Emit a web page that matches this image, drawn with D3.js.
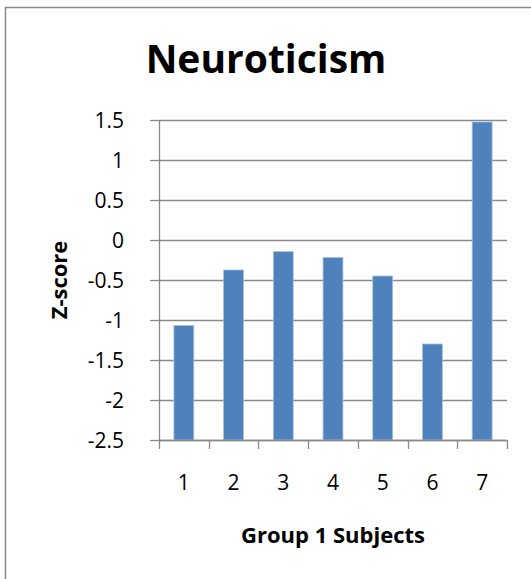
<!DOCTYPE html>
<meta charset="utf-8">
<script src="https://d3js.org/d3.v7.min.js"></script>
<style>
body { margin: 0; background: white; }
text { font-family: "Open Sans", sans-serif; fill: #000; }
</style>
<div id="chart"></div>
<script>

// data
var subjects = ["1", "2", "3", "4", "5", "6", "7"];
var zscores = [-1.07, -0.375, -0.145, -0.22, -0.45, -1.3, 1.475];
var yTicks = [-2.5, -2, -1.5, -1, -0.5, 0, 0.5, 1, 1.5];
var chartTitle = "Neuroticism";
var xTitle = "Group 1 Subjects";
var yTitle = "Z-score";

var width = 531, height = 579;
var plot = {left: 159, right: 507, top: 120, bottom: 440};

var svg = d3.select("#chart")
  .append("svg")
    .attr("width", width)
    .attr("height", height);

// outer frame (only the top and left edges fall inside the picture)
svg.append("rect")
  .attr("x", 5.5).attr("y", 7.5)
  .attr("width", 700).attr("height", 700)
  .attr("fill", "none")
  .attr("stroke", "#8a8a8a")
  .attr("stroke-width", 1.5);

var x = d3.scaleBand()
  .domain(subjects)
  .range([plot.left, plot.right])
  .padding(0);

var y = d3.scaleLinear()
  .domain([-2.5, 1.5])
  .range([plot.bottom, plot.top]);

// y ticks + labels (plain hyphen for negatives, like the original)
var yAxis = svg.append("g")
  .attr("transform", "translate(" + plot.left + ",0)")
  .call(d3.axisLeft(y).tickValues(yTicks).tickSize(9).tickPadding(26)
    .tickFormat(function (d) { return String(d); }));
yAxis.select(".domain").remove();
yAxis.selectAll(".tick line").attr("stroke", "#8a8a8a").attr("stroke-width", 1.3);
yAxis.selectAll(".tick text")
  .style("font-size", "21px")
  .attr("dy", "0.35em");

// gridlines
svg.append("g")
  .selectAll("line")
  .data(yTicks)
  .enter()
  .append("line")
    .attr("x1", plot.left)
    .attr("x2", plot.right)
    .attr("y1", function (d) { return Math.round(y(d)) + 0.5; })
    .attr("y2", function (d) { return Math.round(y(d)) + 0.5; })
    .attr("stroke", "#8a8a8a")
    .attr("stroke-width", 1.3);

// y axis line
svg.append("line")
  .attr("x1", plot.left + 0.5).attr("x2", plot.left + 0.5)
  .attr("y1", plot.top).attr("y2", plot.bottom)
  .attr("stroke", "#8a8a8a")
  .attr("stroke-width", 1.3);

// bars, drawn up from the bottom of the axis
var bw = x.bandwidth() * 0.4;
svg.append("g")
  .selectAll("rect")
  .data(zscores)
  .enter()
  .append("rect")
    .attr("x", function (d, i) { return x(subjects[i]) + (x.bandwidth() - bw) / 2; })
    .attr("y", function (d) { return y(d); })
    .attr("width", bw)
    .attr("height", function (d) { return y(-2.5) - y(d); })
    .attr("fill", "#4f81bd")
    .attr("stroke", "#a7bfe0")
    .attr("stroke-width", 0.8);

// x axis: ticks on band boundaries
var xAxis = svg.append("g")
  .attr("transform", "translate(0," + plot.bottom + ")");
xAxis.append("line")
  .attr("x1", plot.left).attr("x2", plot.right)
  .attr("y1", 0.5).attr("y2", 0.5)
  .attr("stroke", "#8a8a8a").attr("stroke-width", 1.3);
var bounds = subjects.map(function (s) { return x(s); }).concat([plot.right]);
xAxis.selectAll(".xt")
  .data(bounds)
  .enter()
  .append("line")
    .attr("x1", function (d) { return Math.round(d) + 0.5; })
    .attr("x2", function (d) { return Math.round(d) + 0.5; })
    .attr("y1", 0).attr("y2", 9)
    .attr("stroke", "#8a8a8a").attr("stroke-width", 1.3);
xAxis.selectAll(".xl")
  .data(subjects)
  .enter()
  .append("text")
    .attr("x", function (d) { return x(d) + x.bandwidth() / 2; })
    .attr("y", 50)
    .attr("text-anchor", "middle")
    .style("font-size", "21px")
    .text(function (d) { return d; });

// titles
svg.append("text")
  .attr("x", 266).attr("y", 73)
  .attr("text-anchor", "middle")
  .style("font-size", "39px")
  .style("font-weight", "bold")
  .text(chartTitle);

svg.append("text")
  .attr("x", 333).attr("y", 543)
  .attr("text-anchor", "middle")
  .style("font-size", "22px")
  .style("font-weight", "bold")
  .text(xTitle);

svg.append("text")
  .attr("transform", "translate(67,280) rotate(-90)")
  .attr("text-anchor", "middle")
  .style("font-size", "22px")
  .style("font-weight", "bold")
  .text(yTitle);

</script>
